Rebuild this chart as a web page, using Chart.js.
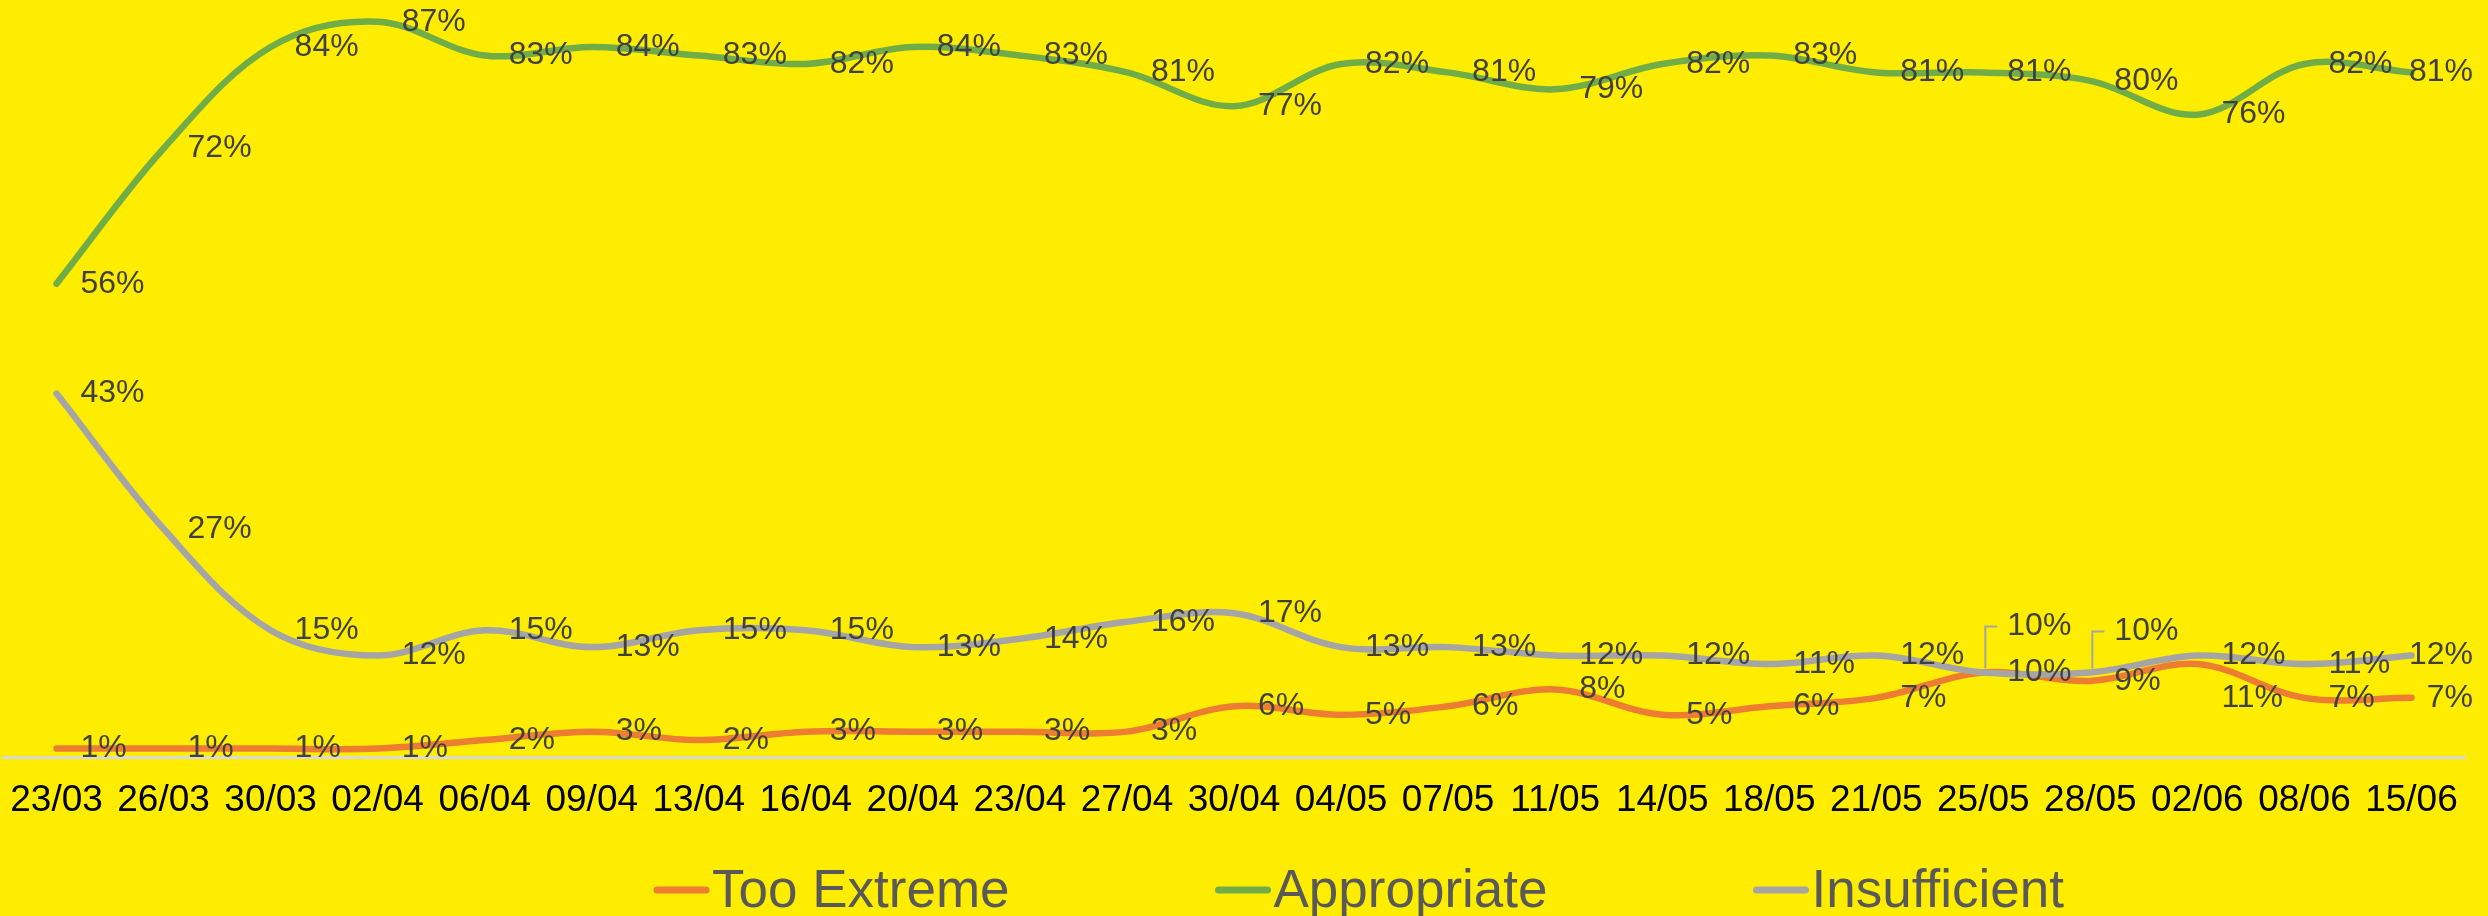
<!DOCTYPE html>
<html>
<head>
<meta charset="utf-8">
<script src="https://cdn.jsdelivr.net/npm/chart.js@4.4.1/dist/chart.umd.min.js"></script>
<style>
  html, body { margin: 0; padding: 0; background: #ffed00; overflow: hidden; }
  #wrap { width: 2488px; height: 916px; }
</style>
</head>
<body>
<div id="wrap"><canvas id="myChart" width="2488" height="916"></canvas></div>
<script>
// categories (dd/mm)
const dates = ["23/03", "26/03", "30/03", "02/04", "06/04", "09/04", "13/04", "16/04", "20/04", "23/04", "27/04", "30/04",
  "04/05", "07/05", "11/05", "14/05", "18/05", "21/05", "25/05", "28/05", "02/06", "08/06", "15/06"];

// series values, %
const tooExtreme = [1, 1, 1, 1, 2, 3, 2, 3, 3, 3, 3, 6, 5, 6, 8, 5, 6, 7, 10, 9, 11, 7, 7];
const appropriate = [56, 72, 84, 87, 83, 84, 83, 82, 84, 83, 81, 77, 82, 81, 79, 82, 83, 81, 81, 80, 76, 82, 81];
const insufficient = [43, 27, 15, 12, 15, 13, 15, 15, 13, 14, 16, 17, 13, 13, 12, 12, 11, 12, 10, 10, 12, 11, 12];

const FONT = "'Liberation Sans', Arial, sans-serif";

// labels that were moved off their point (index -> vertical shift)
const orangeShift = { 20: 34 };
const grayCallouts = { 18: -46, 19: -41 };

const bgPlugin = {
  id: "bg",
  beforeDraw(chart) {
    const ctx = chart.ctx;
    ctx.save();
    ctx.fillStyle = "#ffed00";
    ctx.fillRect(0, 0, chart.width, chart.height);
    ctx.restore();
  }
};

// value labels to the right of each point
const valueLabels = {
  id: "valueLabels",
  afterDatasetsDraw(chart) {
    const ctx = chart.ctx;
    const rightEdge = chart.chartArea.right + 8;
    ctx.save();
    ctx.font = "32px " + FONT;
    ctx.textBaseline = "middle";
    chart.data.datasets.forEach((ds, di) => {
      const meta = chart.getDatasetMeta(di);
      const shifts = ds.labelShift || {};
      const callouts = ds.callouts || {};
      meta.data.forEach((pt, i) => {
        const text = ds.data[i] + "%";
        const w = ctx.measureText(text).width;
        const x = Math.min(pt.x + 24, rightEdge - w);
        let y = pt.y + (shifts[i] || 0);
        if (callouts[i] !== undefined) {
          y = pt.y + callouts[i];
          ctx.strokeStyle = "#a6a6a6";
          ctx.lineWidth = 2;
          ctx.beginPath();
          ctx.moveTo(pt.x + 2, pt.y - 4);
          ctx.lineTo(pt.x + 2, y);
          ctx.lineTo(pt.x + 14, y);
          ctx.stroke();
        }
        ctx.fillStyle = "#404040";
        ctx.fillText(text, x, y);
      });
    });
    ctx.restore();
  }
};

// legend drawn like the Excel one: short line then text
const legendPlugin = {
  id: "customLegend",
  afterDraw(chart) {
    const ctx = chart.ctx;
    ctx.save();
    ctx.font = "53px " + FONT;
    ctx.textBaseline = "alphabetic";
    let x = 653;
    chart.data.datasets.forEach(ds => {
      ctx.strokeStyle = ds.borderColor;
      ctx.lineWidth = 7;
      ctx.lineCap = "round";
      ctx.beginPath();
      ctx.moveTo(x + 4, 890);
      ctx.lineTo(x + 53, 890);
      ctx.stroke();
      ctx.fillStyle = "#595959";
      ctx.fillText(ds.label, x + 59, 907);
      x += 59 + ctx.measureText(ds.label).width + 205;
    });
    ctx.restore();
  }
};

const ctx = document.getElementById("myChart").getContext("2d");
const myChart = new Chart(ctx, {
  type: "line",
  data: {
    labels: dates,
    datasets: [
      {
        label: "Too Extreme",
        data: tooExtreme,
        borderColor: "#ed7d31",
        backgroundColor: "#ed7d31",
        labelShift: orangeShift,
        order: 2
      },
      {
        label: "Appropriate",
        data: appropriate,
        borderColor: "#70ad47",
        backgroundColor: "#70ad47",
        order: 1
      },
      {
        label: "Insufficient",
        data: insufficient,
        borderColor: "#a5a5a5",
        backgroundColor: "#a5a5a5",
        callouts: grayCallouts,
        order: 0
      }
    ]
  },
  options: {
    responsive: false,
    animation: false,
    devicePixelRatio: 1,
    layout: { padding: { left: 3, right: 23, top: 9, bottom: 0 } },
    elements: {
      line: { borderWidth: 6.5, tension: 0.35, fill: false, borderCapStyle: "round", borderJoinStyle: "round" },
      point: { radius: 0, hoverRadius: 0 }
    },
    plugins: {
      legend: { display: false },
      tooltip: { enabled: false }
    },
    scales: {
      x: {
        offset: true,
        grid: { display: false, drawTicks: false },
        border: { display: true, color: "#d9d9d9", width: 3 },
        ticks: {
          autoSkip: false,
          maxRotation: 0,
          padding: 22,
          color: "#000000",
          font: { family: FONT, size: 37 }
        },
        afterFit(scale) {
          scale.height = 159;
          scale.paddingLeft = 0;
          scale.paddingRight = 0;
        }
      },
      y: {
        display: false,
        min: 0,
        max: 88.5
      }
    }
  },
  plugins: [bgPlugin, valueLabels, legendPlugin]
});
</script>
</body>
</html>
